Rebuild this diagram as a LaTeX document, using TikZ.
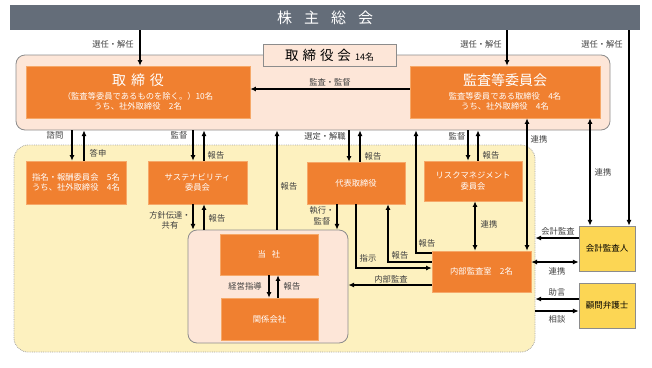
\documentclass[tikz,border=0pt]{standalone}
\usepackage{fontspec}
\setmainfont{Noto Sans CJK JP}
\usetikzlibrary{arrows.meta,positioning}
\definecolor{gmgray}{HTML}{646D79}
\definecolor{boxorange}{HTML}{F08030}
\definecolor{edgeorange}{HTML}{F6A868}
\definecolor{peach}{HTML}{FDE6D8}
\definecolor{cream}{HTML}{FDF1BF}
\definecolor{gold}{HTML}{FCD654}
\definecolor{rimgray}{HTML}{8C8C8C}
\definecolor{labgray}{HTML}{404040}

\begin{document}
\begin{tikzpicture}[
  x=1pt,y=-1pt,
  obox/.style={draw=edgeorange, line width=0.6pt, fill=boxorange, text=white, align=center, inner sep=0pt, font=\fontsize{8.3}{10.5}\selectfont},
  ybox/.style={draw=rimgray, line width=0.8pt, fill=gold, text=black, align=center, inner sep=0pt, font=\fontsize{8.5}{10}\selectfont, minimum width=56, minimum height=45},
  area/.style={draw=rimgray, line width=0.8pt, fill=peach, rounded corners=9pt, inner sep=0pt},
  lab/.style={text=labgray, align=center, inner sep=1pt, font=\fontsize{8.3}{11}\selectfont},
  arr/.style={-{Latex[length=2mm,width=1.8mm]}, line width=1.2pt},
  dbl/.style={{Latex[length=2mm,width=1.8mm]}-{Latex[length=2mm,width=1.8mm]}, line width=1.2pt}
]
\useasboundingbox (0,0) rectangle (652,367);

% areas
\node[area, minimum width=594, minimum height=75] (boardarea) at (313,92.5) {};
\node[area, fill=cream, draw=gray!70, densely dotted, rounded corners=14pt, minimum width=521, minimum height=207] (execarea) at (274.5,248.5) {};
\node[area, minimum width=160, minimum height=113] (grp) at (268,286.5) {};
\node[draw=rimgray, line width=0.8pt, fill=peach, minimum width=133, minimum height=22, inner sep=0pt] (boardlabel) at (329.5,55)
  {\fontsize{13.5}{14}\selectfont 取\hspace{4pt}締\hspace{4pt}役\hspace{4pt}会\hspace{4pt}\fontsize{9}{10}\selectfont 14名};

% shareholders
\node[fill=gmgray, text=white, minimum width=630, minimum height=25, inner sep=0pt, font=\fontsize{15}{16}\selectfont] (gm) at (325,17.5)
  {株\hspace{12pt}主\hspace{12pt}総\hspace{12pt}会};

% boxes
\node[obox, minimum width=224, minimum height=52] (dir) at (138,92)
  {{\fontsize{14}{16}\selectfont 取\hspace{5pt}締\hspace{5pt}役}\\[3pt]（監査等委員であるものを除く。）10名\\うち、社外取締役　2名};
\node[obox, minimum width=190, minimum height=52] (acc) at (505,92)
  {{\fontsize{14}{16}\selectfont 監査等委員会}\\[3pt]監査等委員である取締役　4名\\うち、社外取締役　4名};
\node[obox, minimum width=100, minimum height=43] (nom) at (76,182.5) {指名・報酬委員会　5名\\うち、社外取締役　4名};
\node[obox, minimum width=99, minimum height=43] (sus) at (197.5,182.5) {サステナビリティ\\委員会};
\node[obox, minimum width=98, minimum height=42] (rep) at (356,183) {代表取締役};
\node[obox, minimum width=98, minimum height=40] (risk) at (473,181) {リスクマネジメント\\委員会};
\node[obox, minimum width=98, minimum height=41] (co) at (269,254.5) {当\hspace{6pt}社};
\node[obox, minimum width=97, minimum height=42] (sub) at (269.5,319) {関係会社};
\node[obox, minimum width=99, minimum height=41] (ia) at (481.5,271.5) {内部監査室　2名};
\node[ybox] (audit) at (607,248.5) {会計監査人};
\node[ybox] (lawyer) at (607,305.5) {顧問弁護士};

% shareholders meeting
\draw[arr] ([xshift=2]dir.north |- gm.south) -- ([xshift=2]dir.north);
\draw[arr] ([xshift=2]acc.north |- gm.south) -- ([xshift=2]acc.north);
\draw[arr] ([xshift=22]audit.north |- gm.south) -- ([xshift=22]audit.north);
\node[lab] (l1) at (113,44) {選任・解任};
\node[lab] (l2) at (481,44) {選任・解任};
\node[lab] (l3) at (602,44) {選任・解任};

% board
\draw[arr] ([yshift=3]acc.west) -- ([yshift=3]dir.east);
\node[lab] (l4) at (330,82) {監査・監督};

% committees
\draw[arr] ([xshift=-4]nom.north |- boardarea.south) -- ([xshift=-4]nom.north);
\draw[arr] ([xshift=8]nom.north) -- ([xshift=8]nom.north |- boardarea.south);
\node[lab] (l5) at (55,135) {諮問};
\node[lab] (l6) at (98,153) {答申};
\draw[arr] ([xshift=-4.5]sus.north |- boardarea.south) -- ([xshift=-4.5]sus.north);
\draw[arr] ([xshift=6.5]sus.north) -- ([xshift=6.5]sus.north |- boardarea.south);
\node[lab] (l7) at (179,135) {監督};
\node[lab] (l8) at (216,155) {報告};
\draw[arr] ([xshift=-4.5]sus.south) -- ([xshift=-4.5]sus.south |- grp.north);
\draw[arr] ([xshift=6.5]sus.south |- grp.north) -- ([xshift=6.5]sus.south);
\node[lab, font=\fontsize{8.3}{10}\selectfont] (l9) at (170,220) {方針伝達・\\共有};
\node[lab] (l10) at (217,218) {報告};

% group
\draw[arr] (co.south) -- (co.south |- sub.north);
\draw[arr] ([xshift=9]co.south |- sub.north) -- ([xshift=9]co.south);
\node[lab] (l11) at (245,286) {経営指導};
\node[lab] (l12) at (292,286) {報告};
\draw[arr] ([xshift=9]grp.north) -- ([xshift=9]grp.north |- boardarea.south);
\node[lab] (l13) at (289,186) {報告};

% representative director
\draw[arr] ([xshift=-7]rep.north |- boardarea.south) -- ([xshift=-7]rep.north);
\draw[arr] ([xshift=4]rep.north) -- ([xshift=4]rep.north |- boardarea.south);
\node[lab] (l14) at (325,136) {選定・解職};
\node[lab] (l15) at (373,156) {報告};
\draw[arr] ([xshift=-19]rep.south) -- ([xshift=-19]rep.south |- grp.north);
\node[lab, font=\fontsize{8.3}{11}\selectfont] (l16) at (322,216) {執行・\\監督};
\draw[arr] (rep.south) |- ([yshift=3.5]ia.west);
\node[lab] (l17) at (368,258) {指示};
\draw[arr] ([yshift=9.5]ia.west) -| ([xshift=32]rep.south);
\node[lab] (l18) at (400,255) {報告};
\draw[arr] ([yshift=18.5]ia.west) -| ([xshift=103]boardarea.south);
\node[lab] (l19) at (427,243) {報告};
\draw[arr] ([yshift=-13.5]ia.west) -- ([yshift=-13.5]ia.west -| grp.east);
\node[lab] (l20) at (391,279) {内部監査};

% risk committee
\draw[arr] ([xshift=-5]risk.north |- boardarea.south) -- ([xshift=-5]risk.north);
\draw[arr] ([xshift=5]risk.north) -- ([xshift=5]risk.north |- boardarea.south);
\node[lab] (l21) at (457,136) {監督};
\node[lab] (l22) at (491,155) {報告};
\draw[dbl] ([xshift=2]risk.south) -- ([xshift=2]risk.south |- ia.north);
\node[lab] (l23) at (489,224) {連携};

% audit links
\draw[dbl] ([xshift=22]acc.south) -- ([xshift=22]acc.south |- ia.north);
\node[lab] (l24) at (539,139) {連携};
\draw[dbl] ([xshift=85]acc.south) -- ([xshift=85]acc.south |- audit.north);
\node[lab] (l25) at (603,172) {連携};
\draw[arr] ([yshift=10.5]audit.west) -- ([yshift=10.5]audit.west -| execarea.east);
\node[lab] (l26) at (558,231) {会計監査};
\draw[dbl] ([yshift=9.5]ia.east) -- ([yshift=9.5]ia.east -| audit.west);
\node[lab] (l27) at (557,271) {連携};
\draw[arr] ([yshift=6.5]lawyer.west) -- ([yshift=6.5]lawyer.west -| execarea.east);
\node[lab] (l28) at (557,292) {助言};
\draw[arr] ([yshift=-5.5]lawyer.west -| execarea.east) -- ([yshift=-5.5]lawyer.west);
\node[lab] (l29) at (557,319) {相談};
\end{tikzpicture}
\end{document}
